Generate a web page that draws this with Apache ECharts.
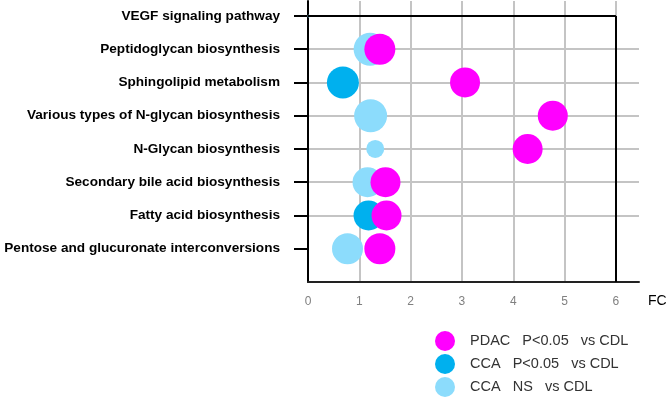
<!DOCTYPE html>
<html>
<head>
<meta charset="utf-8">
<script src="https://cdn.jsdelivr.net/npm/echarts@6/dist/echarts.min.js"></script>
<style>
    html, body { margin: 0; padding: 0; background: #fff; }
    #chart { width: 669px; height: 398px; }
</style>
</head>
<body>
<div id="chart"></div>
<script>
// pathways, bottom to top (y = 1..8)
var pathways = ['Pentose and glucuronate interconversions', 'Fatty acid biosynthesis',
    'Secondary bile acid biosynthesis', 'N-Glycan biosynthesis',
    'Various types of N-glycan biosynthesis', 'Sphingolipid metabolism',
    'Peptidoglycan biosynthesis', 'VEGF signaling pathway'];
var xTicks = [0, 1, 2, 3, 4, 5, 6];

// [FC, pathway index (1 = bottom), bubble size]
var pdacData = [[1.40, 1, 31], [1.53, 2, 30], [1.51, 3, 30], [4.28, 4, 30],
    [4.77, 5, 30], [3.06, 6, 30], [1.40, 7, 31]];
var ccaSigData = [[1.18, 2, 30], [0.68, 6, 32]];
var ccaNsData = [[0.77, 1, 31], [1.16, 3, 30], [1.31, 4, 18], [1.22, 5, 33],
    [1.21, 7, 33], [0.02, 8, 3]];

var seriesNames = ['PDAC   P<0.05   vs CDL', 'CCA   P<0.05   vs CDL', 'CCA   NS   vs CDL'];
var colors = ['#ff00ff', '#00b0ee', '#8cdcfc'];

var myChart = echarts.init(document.getElementById('chart'));

function bubbleSize(d) {
    return d[2];
}

var option = {
    animation: false,
    grid: {
        left: 308,
        right: 30,
        top: 1,
        bottom: 116,
        outerBoundsMode: 'none'
    },
    legend: {
        orient: 'vertical',
        left: 435,
        top: 331,
        padding: 0,
        icon: 'circle',
        itemWidth: 40,
        itemHeight: 20,
        itemGap: 3,
        data: seriesNames,
        textStyle: {
            fontFamily: 'Liberation Sans, Arial, sans-serif',
            fontSize: 14.5,
            color: '#333'
        }
    },
    xAxis: {
        type: 'value',
        min: 0,
        max: 6.45,
        interval: 1,
        name: 'FC',
        nameLocation: 'end',
        nameGap: 9,
        nameTextStyle: {
            fontFamily: 'Liberation Sans, Arial, sans-serif',
            fontSize: 14,
            color: '#000',
            verticalAlign: 'top',
            padding: [12, 0, 0, 0]
        },
        axisLine: { lineStyle: { color: '#222', width: 2 } },
        axisTick: { show: false },
        axisLabel: {
            customValues: xTicks,
            margin: 14,
            fontFamily: 'Liberation Sans, Arial, sans-serif',
            fontSize: 12,
            color: '#808080'
        },
        splitLine: {
            showMinLine: false,
            showMaxLine: false,
            lineStyle: { color: '#c4c4c4', width: 2 }
        }
    },
    yAxis: {
        type: 'value',
        min: 0,
        max: 8.45,
        interval: 1,
        axisLine: { onZero: false, lineStyle: { color: '#000', width: 2 } },
        axisTick: {
            customValues: [1, 2, 3, 4, 5, 6, 7, 8],
            length: 14,
            lineStyle: { color: '#000', width: 2 }
        },
        axisLabel: {
            customValues: [1, 2, 3, 4, 5, 6, 7, 8],
            margin: 28,
            fontFamily: 'Liberation Sans, Arial, sans-serif',
            fontWeight: 'bold',
            fontSize: 13.6,
            color: '#000',
            formatter: function(value) {
                return pathways[value - 1] || '';
            }
        },
        splitLine: {
            showMinLine: false,
            showMaxLine: false,
            lineStyle: { color: '#c4c4c4', width: 2 }
        }
    },
    series: [{
        name: seriesNames[2],
        type: 'scatter',
        symbolSize: bubbleSize,
        itemStyle: { color: colors[2], opacity: 1 },
        data: ccaNsData,
        z: 3,
        markLine: {
            silent: true,
            symbol: 'none',
            label: { show: false },
            lineStyle: { color: '#000', width: 2, type: 'solid' },
            data: [
                [{ coord: [6, 0] }, { coord: [6, 8] }],
                [{ coord: [0, 8] }, { coord: [6, 8] }]
            ]
        }
    }, {
        name: seriesNames[1],
        type: 'scatter',
        symbolSize: bubbleSize,
        itemStyle: { color: colors[1], opacity: 1 },
        data: ccaSigData,
        z: 4
    }, {
        name: seriesNames[0],
        type: 'scatter',
        symbolSize: bubbleSize,
        itemStyle: { color: colors[0], opacity: 1 },
        data: pdacData,
        z: 5
    }]
};
myChart.setOption(option);
</script>
</body>
</html>
